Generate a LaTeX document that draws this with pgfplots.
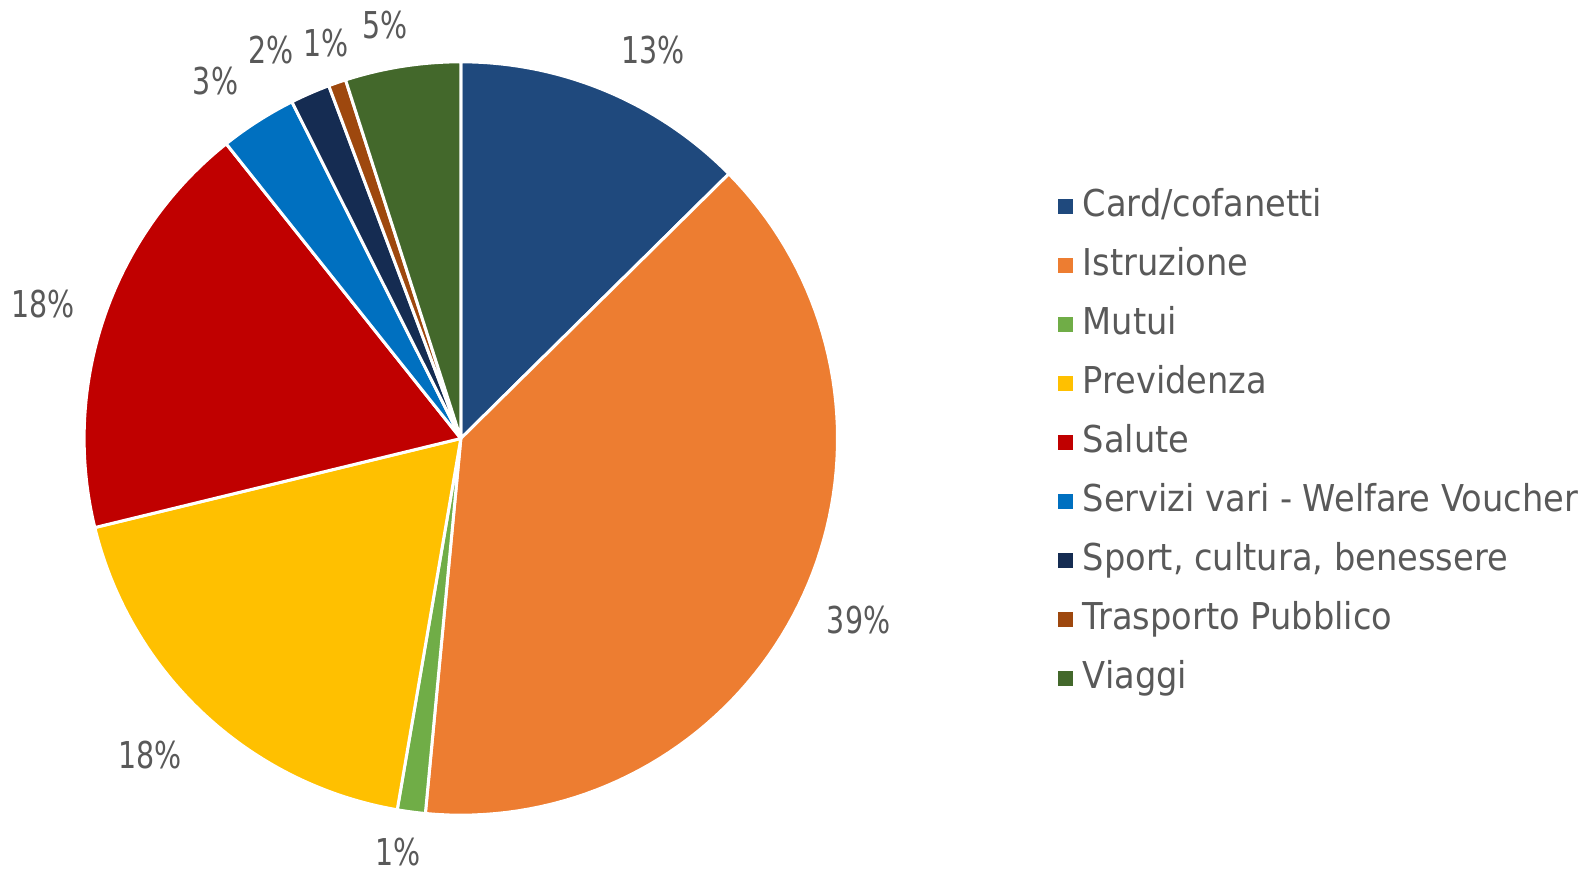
\documentclass[border=0pt]{standalone}
\usepackage{pgfplots}
\pgfplotsset{compat=1.18}
\usepackage{fontspec}
\setmainfont{DejaVu Sans}[FakeStretch=0.91]
\newfontfamily\labfont{DejaVu Sans}[FakeStretch=0.77]
\definecolor{cCard}{HTML}{1F497D}
\definecolor{cIstr}{HTML}{ED7D31}
\definecolor{cMut}{HTML}{70AD47}
\definecolor{cPrev}{HTML}{FFC000}
\definecolor{cSal}{HTML}{C00000}
\definecolor{cServ}{HTML}{0070C0}
\definecolor{cSport}{HTML}{152C52}
\definecolor{cTrasp}{HTML}{9E480E}
\definecolor{cViag}{HTML}{43682B}
\definecolor{txt}{HTML}{595959}
% slice from cumulative percent #1 to #2
\newcommand{\slice}[3]{%
  \addplot[fill=#3, draw=white, line width=1.5bp, domain={90-3.6*(#2)}:{90-3.6*(#1)}, samples=80, line join=round]
    ({cos(x)},{sin(x)}) -- (axis cs:0,0) -- cycle;}
\begin{document}
\begin{tikzpicture}
\begin{axis}[
  scale only axis, width=794bp, height=437bp,
  xmin=-1.2233, xmax=2.9923, ymin=-1.1561, ymax=1.1641,
  hide axis, clip=false,
  legend style={at={(axis cs:1.585,0.670)}, anchor=north west, draw=none, fill=none,
    font=\fontsize{18.5bp}{20bp}\selectfont\color{txt}, row sep=9.5bp, column sep=4bp,
    inner sep=0pt,
    nodes={inner sep=1bp, text height=14bp, text depth=4bp}},
  legend cell align=left,
  legend image code/.code={\fill[#1, draw=none] (0bp,-3.6bp) rectangle (7.2bp,3.6bp);},
]
\draw[draw=none] (rel axis cs:0,0) rectangle (rel axis cs:1,1);
% cumulative shares (percent): 0, 12.6, 51.5, 52.7, 71.2, 89.3, 92.6, 94.3, 95.05, 100
\slice{0}{12.6}{cCard}      \addlegendentry{Card/cofanetti}
\slice{12.6}{51.5}{cIstr}   \addlegendentry{Istruzione}
\slice{51.5}{52.7}{cMut}    \addlegendentry{Mutui}
\slice{52.7}{71.2}{cPrev}   \addlegendentry{Previdenza}
\slice{71.2}{89.3}{cSal}    \addlegendentry{Salute}
\slice{89.3}{92.6}{cServ}   \addlegendentry{Servizi vari - Welfare Voucher}
\slice{92.6}{94.3}{cSport}  \addlegendentry{Sport, cultura, benessere}
\slice{94.3}{95.05}{cTrasp} \addlegendentry{Trasporto Pubblico}
\slice{95.05}{100}{cViag}   \addlegendentry{Viaggi}
\begin{scope}[every node/.style={font=\labfont\fontsize{18.5bp}{20bp}\selectfont, text=txt, inner sep=0pt}]
\node at (axis cs:0.511,1.030) {13\%};
\node at (axis cs:1.056,-0.481) {39\%};
\node at (axis cs:-0.167,-1.098) {1\%};
\node at (axis cs:-0.825,-0.839) {18\%};
\node at (axis cs:-1.110,0.358) {18\%};
\node at (axis cs:-0.651,0.949) {3\%};
\node at (axis cs:-0.503,1.030) {2\%};
\node at (axis cs:-0.358,1.051) {1\%};
\node at (axis cs:-0.202,1.097) {5\%};
\end{scope}
\end{axis}
\end{tikzpicture}
\end{document}
